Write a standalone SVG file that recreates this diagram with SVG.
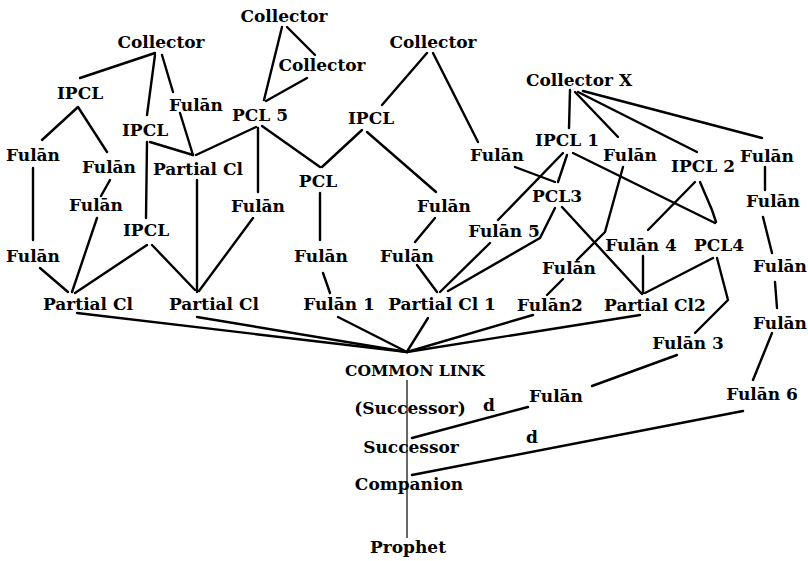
<svg xmlns="http://www.w3.org/2000/svg" width="808" height="561" viewBox="0 0 808 561">
  <style>
    .bg { fill: #ffffff; }
    .lbl { font-family: "DejaVu Serif", "Liberation Serif", serif; font-weight: bold; font-size: 17px; fill: #000000; text-anchor: middle; }
    .small { font-size: 15.6px; }
    .edge { stroke: #000000; stroke-width: 2.4; fill: none; stroke-linecap: round; stroke-linejoin: round; }
    .chain { stroke: #000000; stroke-width: 1.2; fill: none; }
  </style>
  <rect class="bg" x="0" y="0" width="808" height="561"/>

  <!-- connectors -->
  <g id="connectors">
    <line class="edge" x1="155" y1="53" x2="80" y2="78"/>
    <line class="edge" x1="155" y1="55" x2="147" y2="115"/>
    <line class="edge" x1="162" y1="55" x2="173" y2="92"/>
    <line class="edge" x1="78" y1="107" x2="42" y2="140"/>
    <line class="edge" x1="78" y1="107" x2="107" y2="152"/>
    <line class="edge" x1="33" y1="168" x2="33" y2="240"/>
    <line class="edge" x1="110" y1="180" x2="101" y2="196"/>
    <line class="edge" x1="147" y1="142" x2="146" y2="218"/>
    <line class="edge" x1="150" y1="142" x2="193" y2="155"/>
    <line class="edge" x1="180" y1="113" x2="193" y2="155"/>
    <line class="edge" x1="196" y1="155" x2="256" y2="127"/>
    <line class="edge" x1="258" y1="128" x2="258" y2="192"/>
    <line class="edge" x1="262" y1="126" x2="320" y2="167"/>
    <line class="edge" x1="197" y1="180" x2="197" y2="292"/>
    <line class="edge" x1="253" y1="218" x2="199" y2="291"/>
    <line class="edge" x1="147" y1="245" x2="75" y2="293"/>
    <line class="edge" x1="152" y1="245" x2="195" y2="290"/>
    <line class="edge" x1="97" y1="218" x2="72" y2="292"/>
    <line class="edge" x1="40" y1="268" x2="68" y2="292"/>
    <line class="edge" x1="282" y1="27" x2="264" y2="100"/>
    <line class="edge" x1="287" y1="27" x2="315" y2="55"/>
    <line class="edge" x1="307" y1="78" x2="266" y2="101"/>
    <line class="edge" x1="427" y1="53" x2="382" y2="105"/>
    <line class="edge" x1="433" y1="53" x2="478" y2="142"/>
    <line class="edge" x1="362" y1="130" x2="322" y2="167"/>
    <line class="edge" x1="367" y1="132" x2="436" y2="192"/>
    <line class="edge" x1="320" y1="193" x2="320" y2="240"/>
    <line class="edge" x1="323" y1="273" x2="330" y2="293"/>
    <line class="edge" x1="435" y1="218" x2="415" y2="242"/>
    <line class="edge" x1="417" y1="265" x2="437" y2="292"/>
    <line class="edge" x1="490" y1="243" x2="440" y2="292"/>
    <polyline class="edge" points="555,208 540,238 448,291"/>
    <line class="edge" x1="498" y1="220" x2="563" y2="153"/>
    <line class="edge" x1="515" y1="167" x2="555" y2="182"/>
    <line class="edge" x1="567" y1="155" x2="558" y2="182"/>
    <line class="edge" x1="573" y1="153" x2="715" y2="223"/>
    <line class="edge" x1="570" y1="90" x2="569" y2="128"/>
    <line class="edge" x1="575" y1="92" x2="618" y2="137"/>
    <line class="edge" x1="578" y1="92" x2="697" y2="152"/>
    <line class="edge" x1="583" y1="91" x2="762" y2="138"/>
    <polyline class="edge" points="623,167 605,232 577,260"/>
    <line class="edge" x1="563" y1="279" x2="547" y2="295"/>
    <line class="edge" x1="562" y1="207" x2="642" y2="294"/>
    <line class="edge" x1="695" y1="182" x2="648" y2="230"/>
    <polyline class="edge" points="700,182 712,210 716,222"/>
    <line class="edge" x1="643" y1="256" x2="643" y2="293"/>
    <line class="edge" x1="713" y1="258" x2="645" y2="293"/>
    <polyline class="edge" points="717,258 728,300 695,333"/>
    <line class="edge" x1="765" y1="167" x2="765" y2="190"/>
    <line class="edge" x1="763" y1="217" x2="772" y2="253"/>
    <line class="edge" x1="775" y1="282" x2="777" y2="308"/>
    <line class="edge" x1="772" y1="333" x2="753" y2="380"/>
    <line class="edge" x1="338" y1="317" x2="407" y2="352"/>
    <line class="edge" x1="428" y1="318" x2="408" y2="350"/>
    <line class="edge" x1="533" y1="315" x2="407" y2="352"/>
    <line class="edge" x1="640" y1="315" x2="407" y2="352"/>
    <line class="edge" x1="77" y1="313" x2="407" y2="352"/>
    <line class="edge" x1="197" y1="317" x2="407" y2="352"/>
    <line class="chain" x1="407" y1="380" x2="407" y2="538"/>
    <line class="edge" x1="528" y1="407" x2="412" y2="438"/>
    <line class="edge" x1="592" y1="386" x2="677" y2="355"/>
    <line class="edge" x1="743" y1="411" x2="412" y2="475"/>
  </g>

  <!-- nodes -->
  <g id="collector-top"><text class="lbl" x="284" y="22">Collector</text></g>
  <g id="collector-inner"><text class="lbl" x="322" y="71">Collector</text></g>
  <g id="collector-left"><text class="lbl" x="161" y="48">Collector</text></g>
  <g id="collector-middle"><text class="lbl" x="433" y="48">Collector</text></g>
  <g id="collector-x"><text class="lbl" x="579" y="86">Collector X</text></g>

  <g id="ipcl-left"><text class="lbl" x="80" y="99">IPCL</text></g>
  <g id="fulan-a"><text class="lbl" x="196" y="111">Fulān</text></g>
  <g id="pcl-5"><text class="lbl" x="260" y="121">PCL 5</text></g>
  <g id="ipcl-midleft"><text class="lbl" x="145" y="136">IPCL</text></g>
  <g id="ipcl-middle"><text class="lbl" x="371" y="124">IPCL</text></g>
  <g id="fulan-b"><text class="lbl" x="33" y="161">Fulān</text></g>
  <g id="fulan-c"><text class="lbl" x="109" y="173">Fulān</text></g>
  <g id="partial-upper"><text class="lbl" x="198" y="175">Partial Cl</text></g>
  <g id="fulan-d"><text class="lbl" x="258" y="212">Fulān</text></g>
  <g id="pcl"><text class="lbl" x="318" y="187">PCL</text></g>
  <g id="fulan-e"><text class="lbl" x="497" y="161">Fulān</text></g>
  <g id="ipcl-1"><text class="lbl" x="567" y="146">IPCL 1</text></g>
  <g id="fulan-f"><text class="lbl" x="630" y="161">Fulān</text></g>
  <g id="ipcl-2"><text class="lbl" x="703" y="172">IPCL 2</text></g>
  <g id="fulan-g"><text class="lbl" x="767" y="162">Fulān</text></g>
  <g id="pcl-3"><text class="lbl" x="557" y="202">PCL3</text></g>
  <g id="fulan-h"><text class="lbl" x="773" y="207">Fulān</text></g>
  <g id="fulan-4"><text class="lbl" x="641" y="251">Fulān 4</text></g>
  <g id="pcl-4"><text class="lbl" x="719" y="251">PCL4</text></g>
  <g id="fulan-i"><text class="lbl" x="96" y="211">Fulān</text></g>
  <g id="ipcl-lower"><text class="lbl" x="146" y="236">IPCL</text></g>
  <g id="fulan-j"><text class="lbl" x="33" y="262">Fulān</text></g>
  <g id="partial-left"><text class="lbl" x="88" y="310">Partial Cl</text></g>
  <g id="partial-second"><text class="lbl" x="214" y="310">Partial Cl</text></g>
  <g id="fulan-k"><text class="lbl" x="321" y="262">Fulān</text></g>
  <g id="fulan-l"><text class="lbl" x="444" y="212">Fulān</text></g>
  <g id="fulan-m"><text class="lbl" x="407" y="262">Fulān</text></g>
  <g id="fulan-5"><text class="lbl" x="504" y="237">Fulān 5</text></g>
  <g id="fulan-1"><text class="lbl" x="339" y="310">Fulān 1</text></g>
  <g id="partial-1"><text class="lbl" x="442" y="310">Partial Cl 1</text></g>
  <g id="fulan-n"><text class="lbl" x="569" y="274">Fulān</text></g>
  <g id="fulan-2"><text class="lbl" x="550" y="311">Fulān2</text></g>
  <g id="partial-2"><text class="lbl" x="655" y="311">Partial Cl2</text></g>
  <g id="fulan-o"><text class="lbl" x="780" y="272">Fulān</text></g>
  <g id="fulan-p"><text class="lbl" x="780" y="329">Fulān</text></g>
  <g id="fulan-3"><text class="lbl" x="688" y="349">Fulān 3</text></g>
  <g id="fulan-6"><text class="lbl" x="762" y="400">Fulān 6</text></g>
  <g id="fulan-q"><text class="lbl" x="556" y="402">Fulān</text></g>

  <g id="common-link"><text class="lbl small" x="415" y="376">COMMON LINK</text></g>
  <g id="successor-bracket"><text class="lbl" x="410" y="414">(Successor)</text></g>
  <g id="d-upper"><text class="lbl" x="489" y="411">d</text></g>
  <g id="successor"><text class="lbl" x="411" y="453">Successor</text></g>
  <g id="d-lower"><text class="lbl" x="532" y="443">d</text></g>
  <g id="companion"><text class="lbl" x="409" y="490">Companion</text></g>
  <g id="prophet"><text class="lbl" x="408" y="553">Prophet</text></g>
</svg>
